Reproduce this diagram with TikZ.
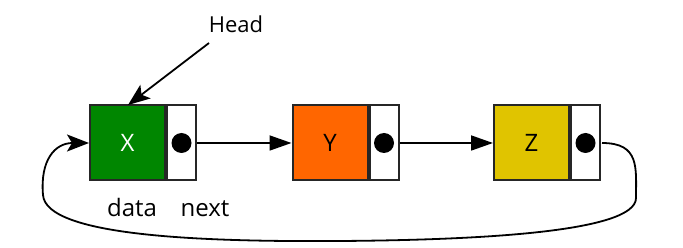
\documentclass[tikz,border=0pt]{standalone}
\usepackage{fontspec}
\setmainfont{Open Sans}
\usetikzlibrary{arrows.meta}
\definecolor{cgreen}{RGB}{0,134,0}
\definecolor{corange}{RGB}{255,102,0}
\definecolor{cyellow}{RGB}{224,196,0}
\begin{document}
\begin{tikzpicture}[x=1pt,y=-1pt,
  datacell/.style={draw=black!85,line width=2pt,minimum width=75pt,minimum height=75pt,inner sep=0pt,font=\fontsize{24}{28}\selectfont},
  nextcell/.style={draw=black!85,line width=2pt,fill=white,minimum width=29pt,minimum height=75pt,inner sep=0pt},
  dot/.style={circle,fill=black,minimum size=20pt,inner sep=0pt},
  link/.style={line width=1.8pt,-{Triangle[length=22pt,width=15pt]}},
  pointer/.style={line width=1.8pt,-{Stealth[length=22pt,width=17pt,inset=5pt]}},
  label/.style={font=\fontsize{24}{28}\selectfont,inner sep=0pt}]
\useasboundingbox (0,0) rectangle (683,248);
% nodes: data cell, next cell and its pointer dot
\node[datacell,fill=cgreen,text=white] (x) at (127.5,143) {X};
\node[nextcell,anchor=west] (xn) at (x.east) {};
\node[dot] (xd) at (xn.center) {};
\node[datacell,fill=corange] (y) at (330,143) {Y};
\node[nextcell,anchor=west] (yn) at (y.east) {};
\node[dot] (yd) at (yn.center) {};
\node[datacell,fill=cyellow] (z) at (531.5,143) {Z};
\node[nextcell,anchor=west] (zn) at (z.east) {};
\node[dot] (zd) at (zn.center) {};
% labels
\node[label,anchor=base,font=\fontsize{22}{26}\selectfont] (head) at (236,33) {Head};
\node[label,anchor=base] (data) at (132,217) {data};
\node[label,anchor=base] (next) at (205,217) {next};
\coordinate (htail) at (209,43);
\coordinate (htip) at (128,105);
\coordinate (loopstart) at (602,143);
% pointers
\draw[pointer] (htail) -- (htip);
\draw[link] (xn.east) -- (y.west);
\draw[link] (yn.east) -- (z.west);
\draw[pointer]
  (loopstart) .. controls (640,143) and (636,168) .. (636,198)
  .. controls (636,232) and (480,240) .. (340,241)
  .. controls (200,242) and (46,236) .. (43,195)
  .. controls (40,160) and (55,143) .. (x.west);
\end{tikzpicture}
\end{document}
